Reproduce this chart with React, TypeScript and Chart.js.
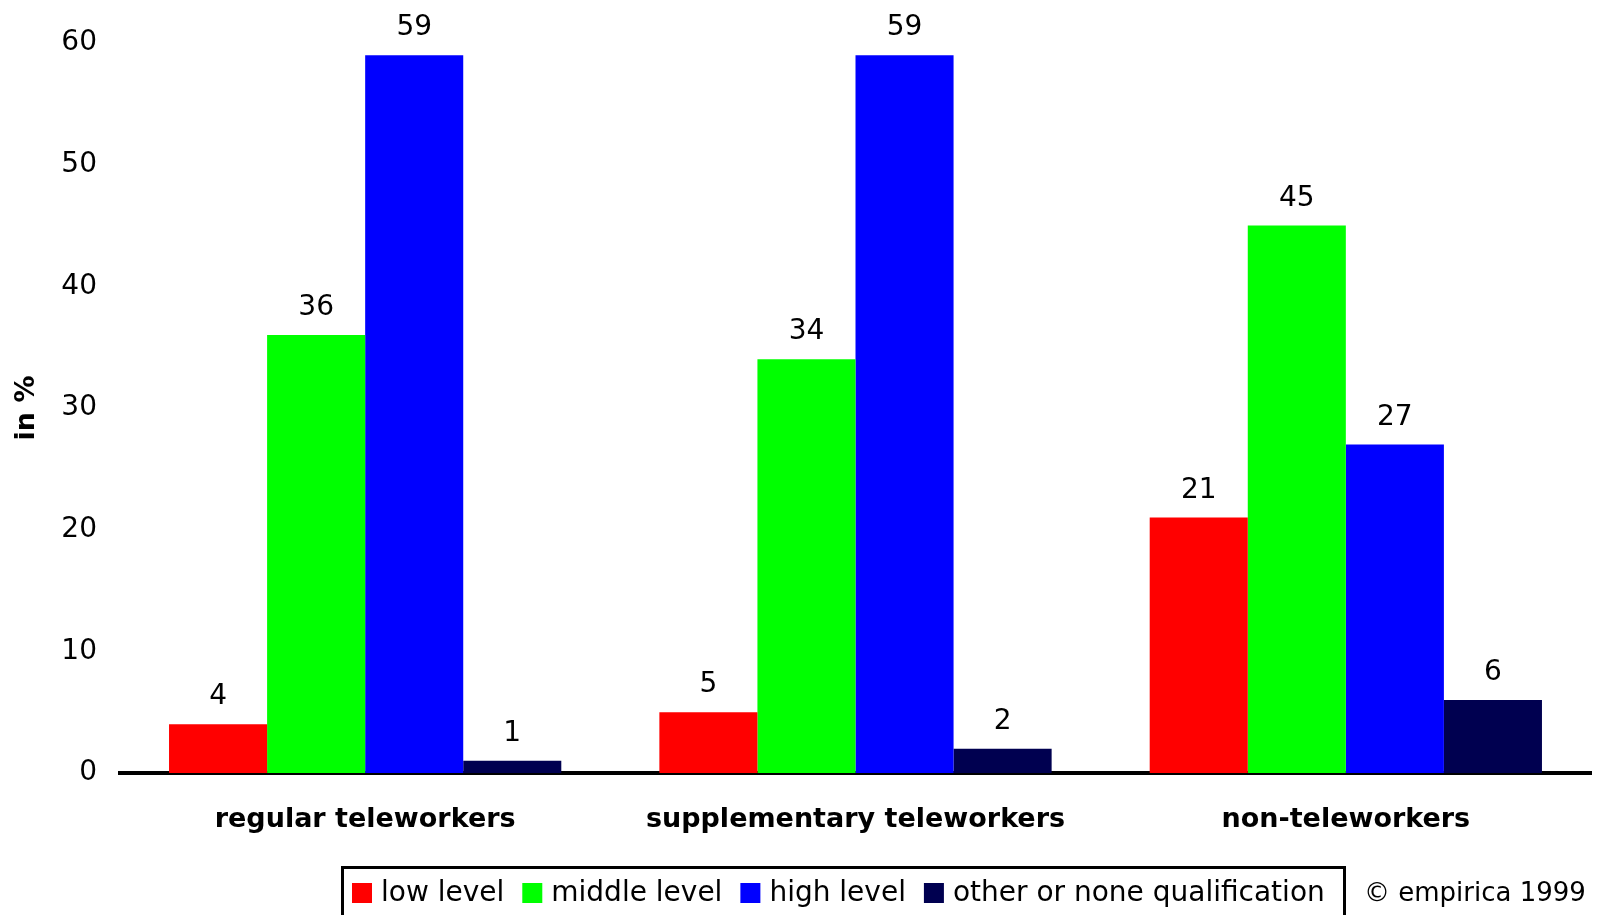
import React, { useEffect, useRef } from 'react';
import { Chart, registerables } from 'chart.js';

Chart.register(...registerables);

// Qualification level of respondents by telework status (in %)
const categories = ['regular teleworkers', 'supplementary teleworkers', 'non-teleworkers'];
const seriesNames = ['low level', 'middle level', 'high level', 'other or none qualification'];
const lowLevel = [4, 5, 21];
const middleLevel = [36, 34, 45];
const highLevel = [59, 59, 27];
const otherLevel = [1, 2, 6];
const seriesColors = ['#ff0000', '#00ff00', '#0000ff', '#000050'];
const yTickValues = [0, 10, 20, 30, 40, 50, 60];
const yAxisTitle = 'in %';
const creditText = '\u00A9 empirica 1999';

const FONT = "'DejaVu Sans', 'Noto Sans', sans-serif";

// Writes each bar's value centred above it
const valueLabels = {
  id: 'valueLabels',
  afterDatasetsDraw(chart: any) {
    const { ctx } = chart;
    ctx.save();
    ctx.font = `28px ${FONT}`;
    ctx.fillStyle = '#000';
    ctx.textAlign = 'center';
    ctx.textBaseline = 'alphabetic';
    chart.data.datasets.forEach((ds: any, i: number) => {
      const meta = chart.getDatasetMeta(i);
      meta.data.forEach((bar: any, j: number) => {
        ctx.fillText(String(ds.data[j]), bar.x, bar.y - 20);
      });
    });
    ctx.restore();
  },
};

// Framed legend row along the bottom edge, followed by the credit line
const boxedLegend = {
  id: 'boxedLegend',
  afterDraw(chart: any) {
    const { ctx, height } = chart;
    ctx.save();
    ctx.font = `28px ${FONT}`;
    ctx.textAlign = 'left';
    ctx.textBaseline = 'alphabetic';
    const baseY = 901;
    let x = 352;
    chart.data.datasets.forEach((ds: any) => {
      ctx.fillStyle = ds.backgroundColor;
      ctx.fillRect(x, 883, 20, 20);
      x += 29;
      ctx.fillStyle = '#000';
      ctx.fillText(ds.label, x, baseY);
      x += ctx.measureText(ds.label).width + 18;
    });
    const right = Math.round(x - 18 + 19);
    ctx.strokeStyle = '#000';
    ctx.lineWidth = 3;
    ctx.beginPath();
    ctx.moveTo(342.5, height);
    ctx.lineTo(342.5, 867.5);
    ctx.lineTo(right + 0.5, 867.5);
    ctx.lineTo(right + 0.5, height);
    ctx.stroke();
    ctx.font = `26px ${FONT}`;
    ctx.fillText(creditText, right + 20, baseY);
    ctx.restore();
  },
};

export default function App() {
  const canvasRef = useRef<HTMLCanvasElement | null>(null);

  useEffect(() => {
    document.body.style.margin = '0';
    const canvas = canvasRef.current;
    if (!canvas) return;
    const values = [lowLevel, middleLevel, highLevel, otherLevel];
    const chart = new Chart(canvas, {
      type: 'bar',
      data: {
        labels: categories,
        datasets: seriesNames.map((name, i) => ({
          label: name,
          data: values[i],
          backgroundColor: seriesColors[i],
          borderWidth: 0,
          categoryPercentage: 0.8,
          barPercentage: 1.0,
        })),
      },
      options: {
        responsive: false,
        animation: false,
        devicePixelRatio: 1,
        layout: { padding: { top: 43, right: 10, left: 0, bottom: 0 } },
        plugins: {
          legend: { display: false },
          tooltip: { enabled: false },
        },
        scales: {
          x: {
            z: 1,
            grid: { display: false, drawTicks: false },
            border: { display: true, color: '#000', width: 4 },
            ticks: {
              color: '#000',
              font: { family: FONT, size: 27, weight: 'bold' },
              padding: 31,
              maxRotation: 0,
              autoSkip: false,
            },
            afterFit(scale: any) {
              scale.height = 142;
            },
          },
          y: {
            min: 0,
            max: 60,
            grid: { display: false, drawTicks: false },
            border: { display: false },
            ticks: {
              color: '#000',
              font: { family: FONT, size: 28 },
              padding: 23,
            },
            afterBuildTicks(scale: any) {
              scale.ticks = yTickValues.map((v) => ({ value: v }));
            },
            title: {
              display: true,
              text: yAxisTitle,
              color: '#000',
              font: { family: FONT, size: 27, weight: 'bold' },
              padding: { top: 11, bottom: 0 },
            },
            afterFit(scale: any) {
              scale.width = 120;
            },
          },
        },
      },
      plugins: [valueLabels, boxedLegend],
    });
    return () => chart.destroy();
  }, []);

  return (
    <canvas
      ref={canvasRef}
      width={1601}
      height={915}
      style={{ display: 'block', width: '1601px', height: '915px' }}
    />
  );
}
